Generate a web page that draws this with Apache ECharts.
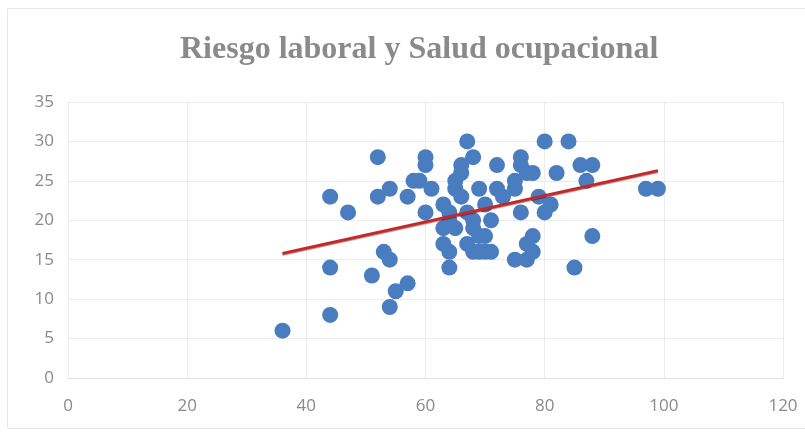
<!DOCTYPE html>
<html>
<head>
<meta charset="utf-8">
<script src="https://cdn.jsdelivr.net/npm/echarts@6/dist/echarts.min.js"></script>
<style>html,body{margin:0;padding:0;background:#fff}#c{width:805px;height:434px}</style>
</head>
<body>
<div id="c"></div>
<script>
const titleText = 'Riesgo laboral y Salud ocupacional';
const xValues = [36,44,44,44,47,51,52,52,53,54,54,54,55,57,57,58,59,60,60,60,61,63,63,63,64,64,64,64,65,65,65,66,66,66,67,67,67,68,68,68,68,69,69,69,70,70,70,71,71,72,72,73,75,75,75,76,76,76,77,77,77,78,78,78,79,80,80,81,82,84,85,86,87,88,88,97,99];
const yValues = [6,8,14,23,21,13,28,23,16,15,24,9,11,12,23,25,25,27,28,21,24,22,17,19,16,14,21,20,25,24,19,27,26,23,30,17,21,28,20,19,16,24,18,16,22,16,18,20,16,27,24,23,15,24,25,28,27,21,26,15,17,26,18,16,23,30,21,22,26,30,14,27,25,27,18,24,24];
const trendX = [36, 99];
const trendY = [15.8, 26.3];
const xTicks = [0, 20, 40, 60, 80, 100, 120];
const yTicks = [0, 5, 10, 15, 20, 25, 30, 35];

const scatterData = xValues.map((x, i) => [x, yValues[i]]);
const trendData = trendX.map((x, i) => [x, trendY[i]]);

const chart = echarts.init(document.getElementById('c'));
chart.setOption({
  animation: false,
  backgroundColor: '#fff',
  title: {
    text: titleText, left: 175, top: 29,
    textStyle: { fontFamily: 'Liberation Serif', fontWeight: 'bold', fontSize: 32, color: '#8a8a8a' }
  },
  graphic: [{ type: 'rect', shape: { x: 7.5, y: 8.5, width: 800, height: 420 }, style: { fill: 'none', stroke: '#e8e8e8', lineWidth: 1 }, silent: true }],
  grid: { left: 68, right: 22, top: 102, bottom: 56 },
  xAxis: {
    type: 'value', min: xTicks[0], max: xTicks[xTicks.length - 1], interval: 20,
    axisLine: { show: true, lineStyle: { color: '#e0e0e0' } },
    axisTick: { show: false },
    axisLabel: { color: '#8a8a8a', fontSize: 17, fontFamily: 'Open Sans', margin: 20 },
    splitLine: { show: true, lineStyle: { color: '#ececec' } }
  },
  yAxis: {
    type: 'value', min: yTicks[0], max: yTicks[yTicks.length - 1], interval: 5,
    axisLine: { show: false },
    axisTick: { show: false },
    axisLabel: { color: '#8a8a8a', fontSize: 17, fontFamily: 'Open Sans', margin: 14 },
    splitLine: { show: true, lineStyle: { color: '#ececec' } }
  },
  series: [
    { type: 'scatter', data: scatterData, symbolSize: 16, itemStyle: { color: '#4a7cc0', opacity: 1 }, z: 2 },
    { type: 'line', data: trendData, symbol: 'none', lineStyle: { color: '#c62828', width: 3, shadowColor: 'rgba(80,0,0,0.5)', shadowBlur: 1, shadowOffsetY: 1 }, z: 3 }
  ]
});
</script>
</body>
</html>
